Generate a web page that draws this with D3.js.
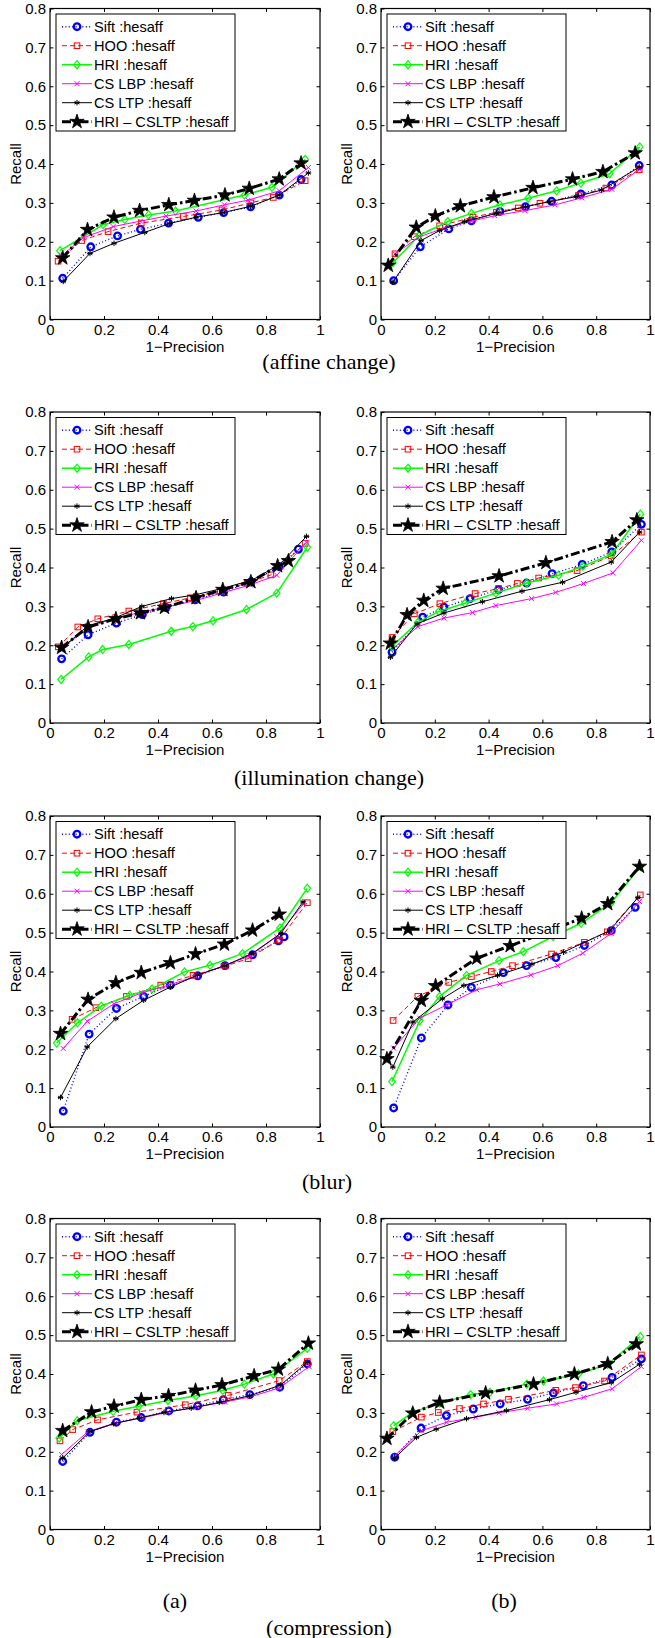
<!DOCTYPE html>
<html>
<head>
<meta charset="utf-8">
<script src="https://cdn.jsdelivr.net/npm/d3@7"></script>
<style>
  body { margin: 0; background: #fff; }
  svg { display: block; }
</style>
</head>
<body>
<div id="chart"></div>
<script>
var svgWidth = 655;
var svgHeight = 1638;

// legend names, in plot order
var seriesNames = ["Sift :hesaff", "HOO :hesaff", "HRI :hesaff", "CS LBP :hesaff", "CS LTP :hesaff", "HRI \u2013 CSLTP :hesaff"];
var xTicks = [0, 0.2, 0.4, 0.6, 0.8, 1];
var yTicks = [0, 0.1, 0.2, 0.3, 0.4, 0.5, 0.6, 0.7, 0.8];
var xLabel = "1\u2212Precision";
var yLabel = "Recall";

// each panel: rows are Sift, HOO, HRI, CS LBP, CS LTP, HRI-CSLTP
var affA_x = [
  [0.047, 0.151, 0.250, 0.335, 0.439, 0.549, 0.643, 0.743, 0.849, 0.930],
  [0.030, 0.117, 0.215, 0.338, 0.494, 0.637, 0.744, 0.827, 0.945],
  [0.037, 0.197, 0.277, 0.365, 0.465, 0.720, 0.822, 0.945],
  [0.043, 0.123, 0.234, 0.335, 0.430, 0.541, 0.646, 0.734, 0.849, 0.957],
  [0.049, 0.148, 0.237, 0.351, 0.443, 0.541, 0.640, 0.743, 0.849, 0.957],
  [0.047, 0.139, 0.237, 0.332, 0.440, 0.535, 0.648, 0.738, 0.849, 0.930]
];
var affA_y = [
  [0.106, 0.187, 0.215, 0.232, 0.248, 0.263, 0.275, 0.290, 0.320, 0.360],
  [0.150, 0.203, 0.226, 0.248, 0.265, 0.282, 0.300, 0.314, 0.357],
  [0.177, 0.244, 0.257, 0.269, 0.279, 0.320, 0.340, 0.412],
  [0.164, 0.210, 0.239, 0.253, 0.266, 0.279, 0.295, 0.307, 0.331, 0.391],
  [0.098, 0.170, 0.196, 0.224, 0.247, 0.263, 0.275, 0.291, 0.320, 0.377],
  [0.158, 0.231, 0.263, 0.280, 0.295, 0.306, 0.320, 0.337, 0.361, 0.402]
];

var affB_x = [
  [0.047, 0.146, 0.252, 0.336, 0.442, 0.537, 0.634, 0.743, 0.858, 0.960],
  [0.052, 0.124, 0.218, 0.342, 0.429, 0.510, 0.591, 0.734, 0.836, 0.960],
  [0.044, 0.142, 0.249, 0.336, 0.442, 0.547, 0.653, 0.743, 0.850, 0.962],
  [0.052, 0.143, 0.236, 0.336, 0.423, 0.535, 0.647, 0.746, 0.858, 0.960],
  [0.044, 0.149, 0.218, 0.311, 0.429, 0.537, 0.625, 0.725, 0.820, 0.960],
  [0.027, 0.131, 0.202, 0.295, 0.420, 0.565, 0.712, 0.825, 0.945]
];
var affB_y = [
  [0.100, 0.187, 0.233, 0.254, 0.278, 0.290, 0.304, 0.323, 0.346, 0.396],
  [0.169, 0.213, 0.241, 0.263, 0.276, 0.287, 0.299, 0.319, 0.338, 0.385],
  [0.146, 0.216, 0.252, 0.273, 0.295, 0.312, 0.331, 0.351, 0.375, 0.444],
  [0.169, 0.213, 0.235, 0.253, 0.267, 0.280, 0.295, 0.313, 0.335, 0.386],
  [0.096, 0.203, 0.229, 0.252, 0.273, 0.290, 0.303, 0.316, 0.333, 0.392],
  [0.139, 0.237, 0.266, 0.292, 0.315, 0.339, 0.361, 0.380, 0.428]
];

var illA_x = [
  [0.043, 0.141, 0.246, 0.342, 0.430, 0.538, 0.643, 0.744, 0.849, 0.920],
  [0.031, 0.103, 0.177, 0.292, 0.420, 0.520, 0.630, 0.730, 0.818, 0.945],
  [0.041, 0.143, 0.195, 0.292, 0.449, 0.529, 0.604, 0.728, 0.840, 0.953],
  [0.040, 0.140, 0.240, 0.340, 0.440, 0.540, 0.640, 0.740, 0.840, 0.950],
  [0.040, 0.140, 0.240, 0.340, 0.450, 0.540, 0.643, 0.750, 0.849, 0.950],
  [0.043, 0.141, 0.244, 0.335, 0.424, 0.541, 0.640, 0.744, 0.843, 0.883]
];
var illA_y = [
  [0.165, 0.227, 0.257, 0.279, 0.297, 0.317, 0.337, 0.363, 0.402, 0.447],
  [0.196, 0.247, 0.268, 0.288, 0.307, 0.322, 0.340, 0.360, 0.381, 0.462],
  [0.112, 0.170, 0.189, 0.202, 0.236, 0.248, 0.263, 0.292, 0.334, 0.452],
  [0.190, 0.245, 0.270, 0.285, 0.300, 0.315, 0.335, 0.355, 0.380, 0.465],
  [0.190, 0.250, 0.270, 0.300, 0.320, 0.330, 0.347, 0.368, 0.407, 0.480],
  [0.194, 0.247, 0.268, 0.283, 0.297, 0.322, 0.343, 0.363, 0.404, 0.417]
];

var illB_x = [
  [0.041, 0.155, 0.234, 0.331, 0.437, 0.541, 0.636, 0.748, 0.858, 0.968],
  [0.041, 0.124, 0.219, 0.350, 0.437, 0.507, 0.586, 0.729, 0.856, 0.968],
  [0.041, 0.137, 0.215, 0.312, 0.427, 0.542, 0.660, 0.750, 0.858, 0.964],
  [0.047, 0.137, 0.234, 0.340, 0.427, 0.560, 0.650, 0.753, 0.862, 0.968],
  [0.035, 0.134, 0.234, 0.377, 0.524, 0.675, 0.856, 0.961],
  [0.035, 0.097, 0.159, 0.231, 0.439, 0.613, 0.859, 0.951]
];
var illB_y = [
  [0.182, 0.272, 0.298, 0.320, 0.343, 0.360, 0.384, 0.408, 0.440, 0.511],
  [0.220, 0.281, 0.307, 0.333, 0.346, 0.359, 0.373, 0.392, 0.430, 0.491],
  [0.197, 0.259, 0.287, 0.308, 0.334, 0.360, 0.380, 0.403, 0.434, 0.537],
  [0.192, 0.248, 0.270, 0.284, 0.302, 0.320, 0.336, 0.359, 0.386, 0.470],
  [0.169, 0.255, 0.283, 0.312, 0.339, 0.362, 0.414, 0.491],
  [0.205, 0.278, 0.315, 0.346, 0.378, 0.412, 0.466, 0.522]
];

var blurA_x = [
  [0.049, 0.145, 0.246, 0.347, 0.446, 0.547, 0.648, 0.750, 0.846, 0.867],
  [0.082, 0.170, 0.283, 0.410, 0.530, 0.649, 0.734, 0.849, 0.953],
  [0.025, 0.102, 0.190, 0.295, 0.378, 0.498, 0.593, 0.713, 0.852, 0.953],
  [0.049, 0.138, 0.237, 0.340, 0.440, 0.540, 0.640, 0.740, 0.840, 0.940],
  [0.039, 0.138, 0.244, 0.347, 0.446, 0.547, 0.648, 0.748, 0.855, 0.937],
  [0.039, 0.141, 0.244, 0.338, 0.446, 0.539, 0.646, 0.750, 0.849]
];
var blurA_y = [
  [0.041, 0.239, 0.305, 0.336, 0.365, 0.389, 0.415, 0.443, 0.479, 0.489],
  [0.277, 0.307, 0.336, 0.365, 0.390, 0.414, 0.433, 0.481, 0.577],
  [0.216, 0.268, 0.311, 0.339, 0.355, 0.399, 0.416, 0.446, 0.512, 0.614],
  [0.202, 0.272, 0.317, 0.345, 0.365, 0.388, 0.414, 0.440, 0.490, 0.575],
  [0.076, 0.206, 0.279, 0.326, 0.360, 0.391, 0.415, 0.446, 0.498, 0.579],
  [0.240, 0.328, 0.371, 0.397, 0.422, 0.445, 0.470, 0.506, 0.547]
];

var blurB_x = [
  [0.047, 0.150, 0.249, 0.336, 0.455, 0.541, 0.650, 0.756, 0.856, 0.945],
  [0.045, 0.137, 0.252, 0.336, 0.410, 0.489, 0.634, 0.756, 0.841, 0.964],
  [0.041, 0.144, 0.218, 0.318, 0.439, 0.529, 0.640, 0.744, 0.856, 0.964],
  [0.047, 0.144, 0.244, 0.356, 0.442, 0.557, 0.657, 0.750, 0.856, 0.961],
  [0.044, 0.119, 0.228, 0.308, 0.433, 0.561, 0.679, 0.850, 0.955],
  [0.022, 0.150, 0.203, 0.356, 0.480, 0.610, 0.746, 0.843, 0.961]
];
var blurB_y = [
  [0.049, 0.229, 0.314, 0.359, 0.397, 0.415, 0.436, 0.467, 0.505, 0.565],
  [0.274, 0.336, 0.372, 0.387, 0.400, 0.415, 0.445, 0.475, 0.502, 0.597],
  [0.117, 0.273, 0.336, 0.390, 0.428, 0.451, 0.490, 0.524, 0.577, 0.670],
  [0.203, 0.280, 0.314, 0.353, 0.368, 0.391, 0.415, 0.447, 0.498, 0.580],
  [0.154, 0.270, 0.330, 0.364, 0.390, 0.419, 0.450, 0.505, 0.590],
  [0.175, 0.325, 0.363, 0.434, 0.466, 0.500, 0.537, 0.574, 0.670]
];

var compA_x = [
  [0.047, 0.148, 0.246, 0.338, 0.440, 0.547, 0.642, 0.740, 0.851, 0.953],
  [0.037, 0.084, 0.176, 0.322, 0.501, 0.660, 0.849, 0.953],
  [0.034, 0.101, 0.234, 0.328, 0.437, 0.541, 0.640, 0.720, 0.827, 0.953],
  [0.043, 0.141, 0.242, 0.342, 0.437, 0.544, 0.649, 0.740, 0.849, 0.960],
  [0.047, 0.148, 0.236, 0.332, 0.422, 0.523, 0.627, 0.740, 0.855, 0.953],
  [0.047, 0.154, 0.237, 0.338, 0.439, 0.539, 0.637, 0.756, 0.846, 0.957]
];
var compA_y = [
  [0.175, 0.250, 0.276, 0.288, 0.305, 0.318, 0.334, 0.347, 0.366, 0.426],
  [0.228, 0.257, 0.282, 0.302, 0.321, 0.345, 0.383, 0.432],
  [0.235, 0.280, 0.304, 0.317, 0.332, 0.344, 0.358, 0.374, 0.400, 0.466],
  [0.193, 0.252, 0.274, 0.287, 0.302, 0.315, 0.328, 0.341, 0.364, 0.419],
  [0.184, 0.252, 0.272, 0.287, 0.301, 0.312, 0.327, 0.344, 0.372, 0.430],
  [0.254, 0.302, 0.317, 0.334, 0.344, 0.358, 0.372, 0.395, 0.412, 0.479]
];

var compB_x = [
  [0.051, 0.149, 0.243, 0.343, 0.443, 0.545, 0.641, 0.752, 0.859, 0.968],
  [0.044, 0.150, 0.213, 0.292, 0.381, 0.474, 0.650, 0.723, 0.831, 0.968],
  [0.047, 0.119, 0.219, 0.333, 0.405, 0.542, 0.604, 0.734, 0.843, 0.964],
  [0.051, 0.150, 0.244, 0.352, 0.439, 0.545, 0.653, 0.754, 0.859, 0.968],
  [0.051, 0.132, 0.205, 0.318, 0.466, 0.626, 0.725, 0.856, 0.961],
  [0.022, 0.118, 0.218, 0.389, 0.567, 0.719, 0.843, 0.949]
];
var compB_y = [
  [0.186, 0.261, 0.293, 0.310, 0.323, 0.335, 0.351, 0.370, 0.391, 0.439],
  [0.252, 0.289, 0.301, 0.311, 0.323, 0.335, 0.358, 0.365, 0.382, 0.449],
  [0.267, 0.302, 0.325, 0.347, 0.353, 0.374, 0.382, 0.400, 0.425, 0.496],
  [0.190, 0.254, 0.276, 0.289, 0.300, 0.312, 0.323, 0.340, 0.362, 0.419],
  [0.184, 0.237, 0.258, 0.285, 0.306, 0.334, 0.353, 0.378, 0.425],
  [0.234, 0.299, 0.327, 0.351, 0.374, 0.400, 0.426, 0.477]
];

// where each panel sits on the page
var panels = [
  {xs: affA_x,  ys: affA_y,  left: 50,  top: 8.5,    w: 270},
  {xs: affB_x,  ys: affB_y,  left: 381, top: 8.5,    w: 269},
  {xs: illA_x,  ys: illA_y,  left: 50,  top: 412,    w: 270},
  {xs: illB_x,  ys: illB_y,  left: 381, top: 412,    w: 269},
  {xs: blurA_x, ys: blurA_y, left: 50,  top: 816,    w: 270},
  {xs: blurB_x, ys: blurB_y, left: 381, top: 816,    w: 269},
  {xs: compA_x, ys: compA_y, left: 50,  top: 1218.5, w: 270},
  {xs: compB_x, ys: compB_y, left: 381, top: 1218.5, w: 269}
];
var plotH = 311;

var captions = [
  {text: "(affine change)", x: 329, y: 361},
  {text: "(illumination change)", x: 329, y: 777},
  {text: "(blur)", x: 327, y: 1181},
  {text: "(a)", x: 175, y: 1600},
  {text: "(b)", x: 504, y: 1600},
  {text: "(compression)", x: 329, y: 1627}
];

// MATLAB-ish line specs: b:o  r--s  g-d  m-x  k-*  k-.p
var styles = [
  {color: "#0000ff", width: 1.4, dash: "1,2.4", marker: "circle"},
  {color: "#ff0000", width: 1,   dash: "5,3",   marker: "square"},
  {color: "#00ff00", width: 1.5, dash: null,    marker: "diamond"},
  {color: "#ff00ff", width: 1,   dash: null,    marker: "x"},
  {color: "#000000", width: 1,   dash: null,    marker: "star6"},
  {color: "#000000", width: 3,   dash: "9,3,2.5,3", marker: "pentagram"}
];

var font = "'Liberation Sans', Arial, Helvetica, sans-serif";
var tickSize = 15;
var legendSize = 14.6;

var svg = d3.select("#chart")
  .append("svg")
  .attr("width", svgWidth)
  .attr("height", svgHeight)
  .style("background", "#fff");

// draw a marker of the given kind centred at (cx, cy)
function drawMarker(g, kind, cx, cy, st) {
  if (kind === "circle") {
    g.append("circle").attr("cx", cx).attr("cy", cy).attr("r", 3.3)
      .attr("fill", "none").attr("stroke", st.color).attr("stroke-width", 2.3);
  } else if (kind === "square") {
    g.append("rect").attr("x", cx - 2.8).attr("y", cy - 2.8).attr("width", 5.6).attr("height", 5.6)
      .attr("fill", "none").attr("stroke", st.color).attr("stroke-width", 1);
  } else if (kind === "diamond") {
    var p = [[cx, cy - 4], [cx + 3.3, cy], [cx, cy + 4], [cx - 3.3, cy]];
    g.append("path").attr("d", "M" + p.join("L") + "Z")
      .attr("fill", "none").attr("stroke", st.color).attr("stroke-width", 1.2);
  } else if (kind === "x") {
    var r = 2.5;
    g.append("path")
      .attr("d", `M${cx - r},${cy - r}L${cx + r},${cy + r}M${cx - r},${cy + r}L${cx + r},${cy - r}`)
      .attr("stroke", st.color).attr("stroke-width", 1);
  } else if (kind === "star6") {
    var r2 = 2.8, d = "";
    [0, 60, 120].forEach(function(a) {
      var t = a * Math.PI / 180 + Math.PI / 2;
      d += `M${cx + r2 * Math.cos(t)},${cy + r2 * Math.sin(t)}L${cx - r2 * Math.cos(t)},${cy - r2 * Math.sin(t)}`;
    });
    d += `M${cx - r2},${cy}L${cx + r2},${cy}`;
    g.append("path").attr("d", d).attr("stroke", st.color).attr("stroke-width", 1);
  } else if (kind === "pentagram") {
    var R = 7.6, ri = R * 0.382, pts = [];
    for (var i = 0; i < 10; i++) {
      var rr = i % 2 === 0 ? R : ri;
      var ang = -Math.PI / 2 + i * Math.PI / 5;
      pts.push([cx + rr * Math.cos(ang), cy + rr * Math.sin(ang)]);
    }
    g.append("path").attr("d", "M" + pts.join("L") + "Z")
      .attr("fill", st.color).attr("stroke", st.color).attr("stroke-width", 0.8)
      .attr("stroke-linejoin", "miter");
  }
}

panels.forEach(function(pn) {
  var g = svg.append("g").attr("transform", `translate(${pn.left}, ${pn.top})`);
  var plotW = pn.w;

  var xScale = d3.scaleLinear().domain([0, 1]).range([0, plotW]);
  var yScale = d3.scaleLinear().domain([0, 0.8]).range([plotH, 0]);

  // axes with inward ticks (box on)
  g.append("g").attr("transform", `translate(0, ${plotH})`)
    .call(d3.axisBottom(xScale).tickValues(xTicks).tickFormat(d => String(d))
      .tickSizeInner(-3.5).tickSizeOuter(0).tickPadding(4.5));
  g.append("g")
    .call(d3.axisLeft(yScale).tickValues(yTicks).tickFormat(d => String(d))
      .tickSizeInner(-3.5).tickSizeOuter(0).tickPadding(4));
  g.append("g")
    .call(d3.axisTop(xScale).tickValues(xTicks).tickFormat("").tickSizeInner(-3.5).tickSizeOuter(0));
  g.append("g").attr("transform", `translate(${plotW}, 0)`)
    .call(d3.axisRight(yScale).tickValues(yTicks).tickFormat("").tickSizeInner(-3.5).tickSizeOuter(0));

  g.selectAll(".domain").remove();
  g.selectAll(".tick line").attr("stroke", "#000").attr("stroke-width", 1);
  g.selectAll(".tick text")
    .attr("font-family", font).attr("font-size", tickSize).attr("fill", "#000");

  g.append("rect").attr("width", plotW).attr("height", plotH)
    .attr("fill", "none").attr("stroke", "#000").attr("stroke-width", 1.2);

  // axis titles
  g.append("text")
    .attr("x", plotW / 2).attr("y", plotH + 32)
    .attr("text-anchor", "middle")
    .attr("font-family", font).attr("font-size", tickSize)
    .text(xLabel);
  g.append("text")
    .attr("transform", `translate(-35, ${plotH / 2}) rotate(-90)`)
    .attr("text-anchor", "middle").attr("dominant-baseline", "central")
    .attr("font-family", font).attr("font-size", tickSize)
    .text(yLabel);

  // curves
  var line = d3.line().x(d => xScale(d[0])).y(d => yScale(d[1]));
  pn.xs.forEach(function(xv, s) {
    var st = styles[s];
    var pts = xv.map((v, i) => [v, pn.ys[s][i]]);
    var sg = g.append("g");
    sg.append("path").datum(pts)
      .attr("d", line)
      .attr("fill", "none")
      .attr("stroke", st.color)
      .attr("stroke-width", st.width)
      .attr("stroke-dasharray", st.dash)
      .attr("stroke-linejoin", "round");
    pts.forEach(function(p) {
      drawMarker(sg, st.marker, xScale(p[0]), yScale(p[1]), st);
    });
  });

  // legend box
  var lg = g.append("g").attr("transform", "translate(6, 5.5)");
  lg.append("rect").attr("width", 179).attr("height", 117)
    .attr("fill", "#fff").attr("stroke", "#000").attr("stroke-width", 1);
  seriesNames.forEach(function(name, s) {
    var st = styles[s];
    var ly = 12.7 + s * 19;
    lg.append("line").attr("x1", 6).attr("x2", 36).attr("y1", ly).attr("y2", ly)
      .attr("stroke", st.color).attr("stroke-width", st.width)
      .attr("stroke-dasharray", st.dash);
    drawMarker(lg, st.marker, 21, ly, st);
    lg.append("text").attr("x", 38).attr("y", ly)
      .attr("dominant-baseline", "central")
      .attr("font-family", font).attr("font-size", legendSize)
      .text(name);
  });
});

// sub-figure captions
svg.selectAll(".caption")
  .data(captions)
  .enter()
  .append("text")
  .attr("class", "caption")
  .attr("x", d => d.x)
  .attr("y", d => d.y)
  .attr("text-anchor", "middle")
  .attr("dominant-baseline", "central")
  .attr("font-family", "'Liberation Serif', 'Times New Roman', serif")
  .attr("font-size", 22)
  .text(d => d.text);
</script>
</body>
</html>
